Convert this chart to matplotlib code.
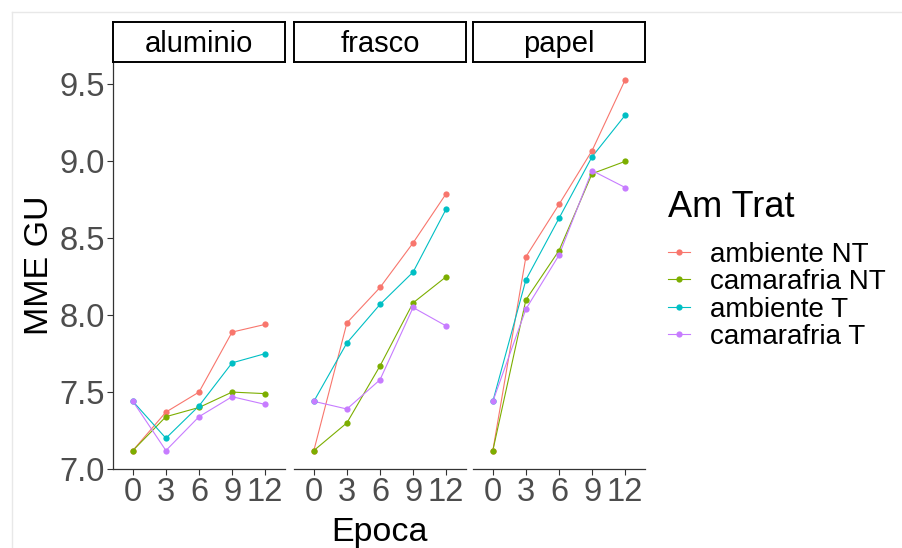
import matplotlib.pyplot as plt
from matplotlib.lines import Line2D

plt.rcParams['font.family'] = ['Liberation Sans', 'DejaVu Sans']

# ---------------------------
# DONNEES
# ---------------------------
epocas = ["0", "3", "6", "9", "12"]
paneles = ["aluminio", "frasco", "papel"]
tratamientos = ["ambiente NT", "camarafria NT", "ambiente T", "camarafria T"]
colores = ["#F8766D", "#7CAE00", "#00BFC4", "#C77CFF"]

aluminio = {
    "ambiente NT":   [7.12, 7.37, 7.50, 7.89, 7.94],
    "camarafria NT": [7.12, 7.34, 7.40, 7.50, 7.49],
    "ambiente T":    [7.44, 7.20, 7.41, 7.69, 7.75],
    "camarafria T":  [7.44, 7.12, 7.34, 7.47, 7.42],
}
frasco = {
    "ambiente NT":   [7.12, 7.95, 8.18, 8.47, 8.79],
    "camarafria NT": [7.12, 7.30, 7.67, 8.08, 8.25],
    "ambiente T":    [7.44, 7.82, 8.07, 8.28, 8.69],
    "camarafria T":  [7.44, 7.39, 7.58, 8.05, 7.93],
}
papel = {
    "ambiente NT":   [7.12, 8.38, 8.72, 9.07, 9.53],
    "camarafria NT": [7.12, 8.10, 8.42, 8.92, 9.00],
    "ambiente T":    [7.44, 8.23, 8.63, 9.03, 9.30],
    "camarafria T":  [7.44, 8.04, 8.39, 8.94, 8.83],
}
datos = [aluminio, frasco, papel]

# ---------------------------
# FIGURE
# ---------------------------
W, H = 902, 548
fig = plt.figure(figsize=(W / 100, H / 100), dpi=100)

# cadre gris clair (capture)
fig.add_artist(Line2D([12 / W, 12 / W], [0, 1 - 12 / H], color="#E8E8E8", lw=1))
fig.add_artist(Line2D([12 / W, 1], [1 - 12 / H, 1 - 12 / H], color="#E8E8E8", lw=1))

lefts = [113, 294, 473]
pw = 172
top, bottom = 62, 469
gris = "#4D4D4D"

handles = []
for k, (nom, d) in enumerate(zip(paneles, datos)):
    ax = fig.add_axes([lefts[k] / W, 1 - bottom / H, pw / W, (bottom - top) / H])
    x = range(len(epocas))
    for t, c in zip(tratamientos, colores):
        ax.plot(x, d[t], color=c, lw=0.8, zorder=2)
    for t, c in zip(tratamientos, colores):
        ax.plot(x, d[t], "o", color=c, ms=4.5, mec="none", zorder=3)
    if k == 0:
        handles = [Line2D([], [], color=c, lw=0.8, marker="o", ms=4.5, mec="none")
                   for c in colores]
    ax.set_xlim(-0.6, 4.6)
    ax.set_ylim(7.0, 9.646)
    ax.set_xticks(list(x))
    ax.set_xticklabels(epocas)
    ax.set_yticks([7.0, 7.5, 8.0, 8.5, 9.0, 9.5])
    ax.set_yticklabels(["7.0", "7.5", "8.0", "8.5", "9.0", "9.5"])
    ax.tick_params(axis="both", labelsize=23.5, labelcolor=gris, color="#333333",
                   length=4, width=0.8, pad=2)
    for s in ["top", "right"]:
        ax.spines[s].set_visible(False)
    ax.spines["bottom"].set_color("#333333")
    ax.spines["bottom"].set_linewidth(0.9)
    if k == 0:
        ax.spines["left"].set_color("#333333")
        ax.spines["left"].set_linewidth(0.9)
        ax.set_ylabel("MME GU", fontsize=24.5, labelpad=3)
    else:
        ax.spines["left"].set_visible(False)
        ax.tick_params(axis="y", left=False, labelleft=False)
    if k == 1:
        ax.set_xlabel("Epoca", fontsize=24.5, labelpad=6)

    # bandeau
    sx = fig.add_axes([lefts[k] / W, 1 - top / H, pw / W, 40 / H])
    sx.set_xticks([])
    sx.set_yticks([])
    for s in sx.spines.values():
        s.set_linewidth(1.4)
        s.set_color("black")
    sx.text(0.5, 0.45, nom, ha="center", va="center", fontsize=21,
            transform=sx.transAxes)

leg = fig.legend(handles, tratamientos, title="Am Trat", loc="upper left",
                 bbox_to_anchor=(657 / W, 1 - 179 / H), frameon=False,
                 fontsize=20, title_fontsize=26, handlelength=0.8,
                 handletextpad=0.72, labelspacing=0.05, borderaxespad=0)
leg._legend_box.align = "left"
leg._legend_box.sep = 12

plt.savefig("out.png", dpi=100)
